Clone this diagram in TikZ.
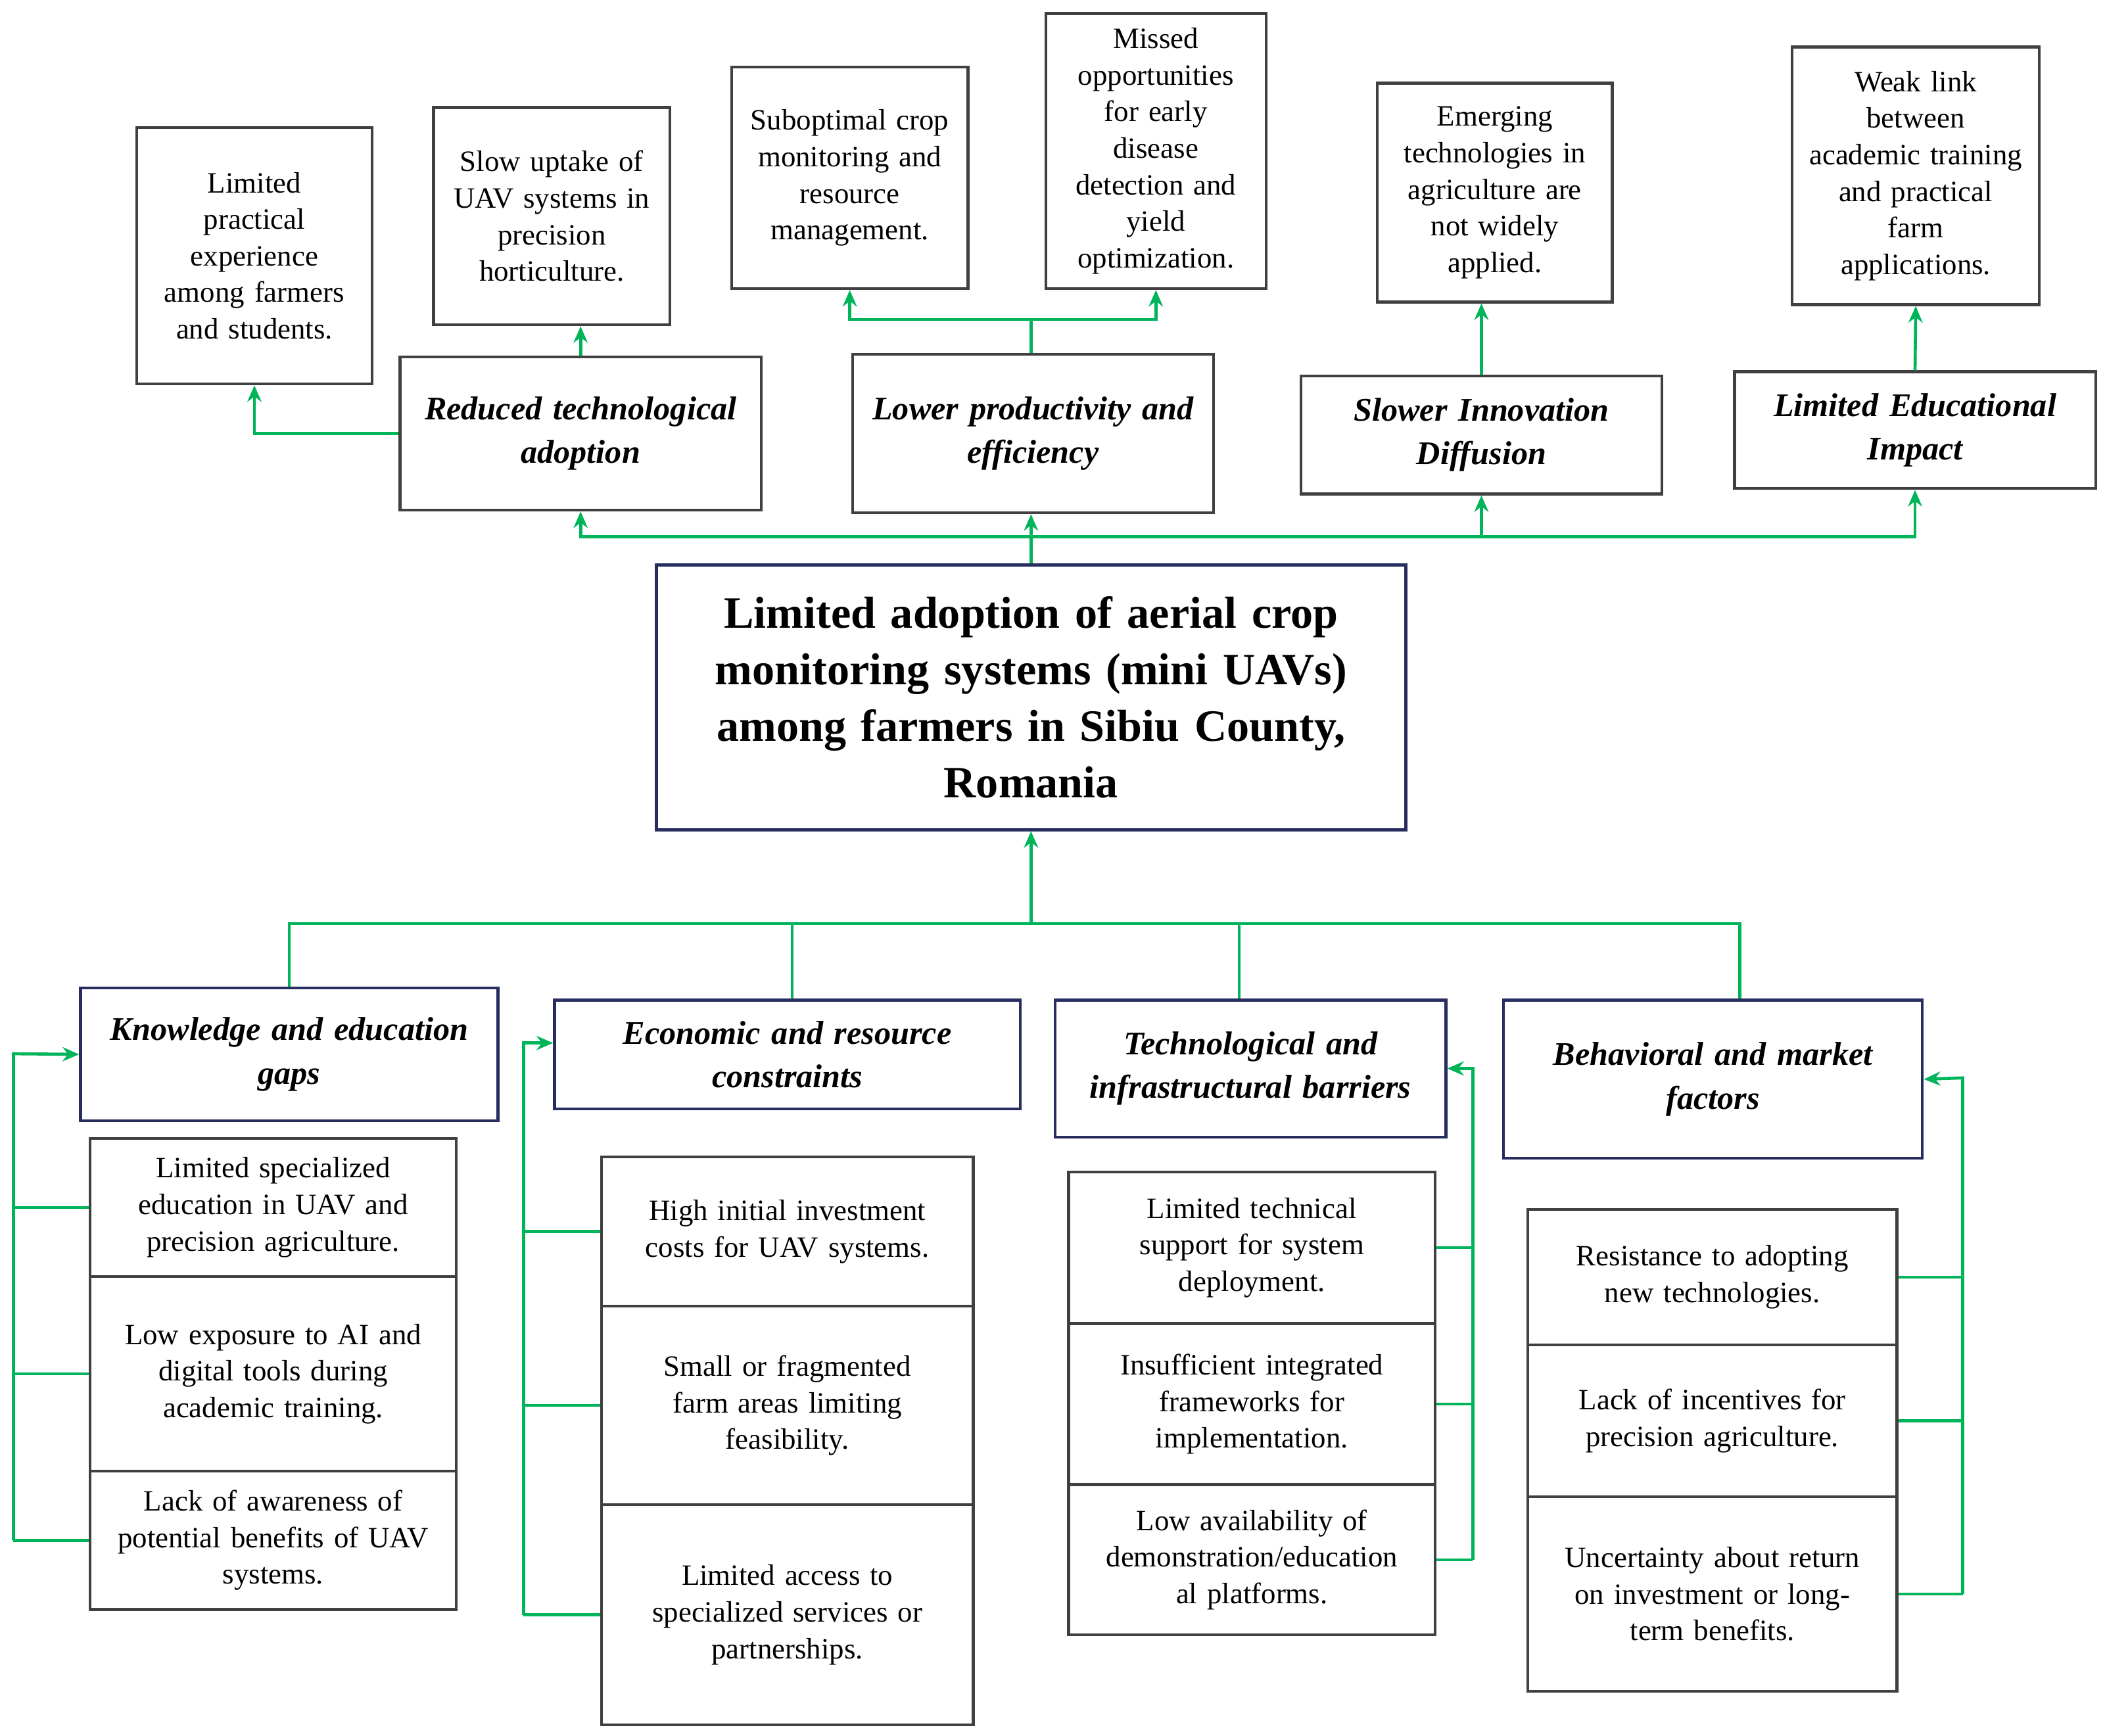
\documentclass[tikz,border=0pt]{standalone}
\usepackage{fontspec}
\setmainfont{Liberation Serif}
\usetikzlibrary{arrows.meta}
\definecolor{linkgreen}{RGB}{0,180,90}
\definecolor{navyline}{RGB}{40,45,95}
\newcommand\bx[7]{%
  \pgfmathsetmacro\bw{#4*0.02}\pgfmathsetmacro\bh{#5*0.02}\pgfmathsetmacro\tw{#4*0.02-0.2}%
  \node[#6, minimum width=\bw cm, minimum height=\bh cm, text width=\tw cm] (#1) at (#2,#3) {#7};}
\tikzset{
  plainbox/.style={draw=black!75, line width=1.2pt, inner sep=0.1cm, align=center,
    font=\fontsize{12.5}{15.5}\selectfont},
  effectbox/.style={draw=black!75, line width=1.2pt, inner sep=0.1cm, align=center,
    font=\fontsize{14}{18.5}\selectfont\bfseries\itshape},
  causebox/.style={draw=navyline, line width=1.2pt, inner sep=0.1cm, align=center,
    font=\fontsize{14}{18.5}\selectfont\bfseries\itshape},
  corebox/.style={draw=navyline, line width=1.4pt, inner sep=0.1cm, align=center,
    font=\fontsize{19}{24}\selectfont\bfseries},
  link/.style={draw=linkgreen, line width=1.3pt},
  arrowlink/.style={link, -{Stealth[length=7pt,width=6pt]}}
}
\begin{document}
\begin{tikzpicture}[x=0.02cm, y=-0.02cm]
\useasboundingbox (0,0) rectangle (1568,1293);
% core problem
\bx{core}{768}{519.5}{558}{197}{corebox}{Limited adoption of aerial crop\\ monitoring systems (mini UAVs)\\ among farmers in Sibiu County,\\ Romania}
% effects
\bx{eff1}{432.5}{323}{269}{114}{effectbox}{Reduced technological\\ adoption}
\bx{eff2}{769.5}{323}{269}{118}{effectbox}{Lower productivity and\\ efficiency}
\bx{eff3}{1103.5}{324}{269}{88}{effectbox}{Slower Innovation\\ Diffusion}
\bx{eff4}{1426.5}{320.5}{269}{87}{effectbox}{Limited Educational\\ Impact}
% consequences
\bx{res1}{189.5}{190.5}{175}{191}{plainbox}{Limited\\ practical\\ experience\\ among farmers\\ and students.\\[0.6cm]}
\bx{res2}{411}{161}{176}{162}{plainbox}{Slow uptake of\\ UAV systems in\\ precision\\ horticulture.\\[0.9cm]}
\bx{res3}{633}{132.5}{176}{165}{plainbox}{Suboptimal crop\\ monitoring and\\ resource\\ management.\\[1.2cm]}
\bx{res4}{861}{112.5}{164}{205}{plainbox}{Missed\\ opportunities\\ for early\\ disease\\ detection and\\ yield\\ optimization.}
\bx{res5}{1113.5}{143.5}{175}{163}{plainbox}{Emerging\\ technologies in\\ agriculture are\\ not widely\\ applied.}
\bx{res6}{1427}{131}{184}{192}{plainbox}{Weak link\\ between\\ academic training\\ and practical\\ farm\\ applications.}
% causes
\bx{cause1}{215.5}{785.5}{311}{99}{causebox}{Knowledge and education\\ gaps}
\bx{cause2}{586.5}{785.5}{347}{81}{causebox}{Economic and resource\\ constraints}
\bx{cause3}{931.5}{796}{291}{102}{causebox}{Technological and\\ infrastructural barriers\\[0.5cm]}
\bx{cause4}{1276}{804}{312}{118}{causebox}{Behavioral and market\\ factors\\[0.3cm]}
% sub-causes
\bx{k1}{203.5}{899.5}{273}{103}{plainbox}{Limited specialized\\ education in UAV and\\ precision agriculture.}
\bx{k2}{203.5}{1023.5}{273}{145}{plainbox}{Low exposure to AI and\\ digital tools during\\ academic training.\\[1.1cm]}
\bx{k3}{203.5}{1147.5}{273}{103}{plainbox}{Lack of awareness of\\ potential benefits of UAV\\ systems.}
\bx{m1}{586.5}{917.5}{277}{111}{plainbox}{High initial investment\\ costs for UAV systems.\\[0.9cm]}
\bx{m2}{586.5}{1047}{277}{148}{plainbox}{Small or fragmented\\ farm areas limiting\\ feasibility.}
\bx{m3}{586.5}{1203}{277}{164}{plainbox}{Limited access to\\ specialized services or\\ partnerships.}
\bx{t1}{932.5}{929.5}{273}{113}{plainbox}{Limited technical\\ support for system\\ deployment.}
\bx{t2}{932.5}{1046}{273}{120}{plainbox}{Insufficient integrated\\ frameworks for\\ implementation.}
\bx{t3}{932.5}{1162}{273}{112}{plainbox}{Low availability of\\ demonstration/education\\ al platforms.}
\bx{b1}{1275.5}{951.5}{275}{101}{plainbox}{Resistance to adopting\\ new technologies.\\[0.9cm]}
\bx{b2}{1275.5}{1058.5}{275}{113}{plainbox}{Lack of incentives for\\ precision agriculture.\\[1.1cm]}
\bx{b3}{1275.5}{1187.5}{275}{145}{plainbox}{Uncertainty about return\\ on investment or long-\\ term benefits.\\[1.1cm]}
% core to effects
\coordinate (hub) at (768,400);
\draw[link] (core.north) -- (hub);
\draw[arrowlink] (hub) -| (eff1.south);
\draw[arrowlink] (hub) -- (hub |- eff2.south);
\draw[arrowlink] (hub) -| (eff3.south);
\draw[arrowlink] (hub) -| (eff4.south);
% effects to consequences
\draw[arrowlink] (eff1.west) -| (res1.south);
\draw[arrowlink] (eff1.north) -- (eff1.north |- res2.south);
\coordinate (split) at (768,238);
\draw[link] (split |- eff2.north) -- (split);
\draw[arrowlink] (split) -| (res3.south);
\draw[arrowlink] (split) -| (res4.south);
\draw[arrowlink] (eff3.north) -- (eff3.north |- res5.south);
\draw[arrowlink] (eff4.north) -- (res6.south);
% causes to core
\coordinate (bus) at (768,688);
\draw[arrowlink] (bus) -- (core.south);
\draw[link] (cause1.north) |- (bus);
\draw[link] (590,0 |- cause2.north) |- (bus);
\draw[link] (923,0 |- cause3.north) |- (bus);
\draw[link] (1296,0 |- cause4.north) |- (bus);
% sub-causes to causes
\foreach \s in {k1,k2,k3} \draw[link] (\s.west) -- (10,0 |- \s.west);
\draw[arrowlink] (10,0 |- k3.west) -- (10,785) -- (cause1.west);
\foreach \s in {m1,m2,m3} \draw[link] (\s.west) -- (390,0 |- \s.west);
\draw[arrowlink] (390,0 |- m3.west) -- (390,777) -- (cause2.west |- 0,777);
\foreach \s in {t1,t2,t3} \draw[link] (\s.east) -- (1097,0 |- \s.east);
\draw[arrowlink] (1097,0 |- t3.east) -- (1097,796) -- (cause3.east);
\foreach \s in {b1,b2,b3} \draw[link] (\s.east) -- (1462,0 |- \s.east);
\draw[arrowlink] (1462,0 |- b3.east) -- (1462,803) -- (cause4.east);
\end{tikzpicture}
\end{document}
